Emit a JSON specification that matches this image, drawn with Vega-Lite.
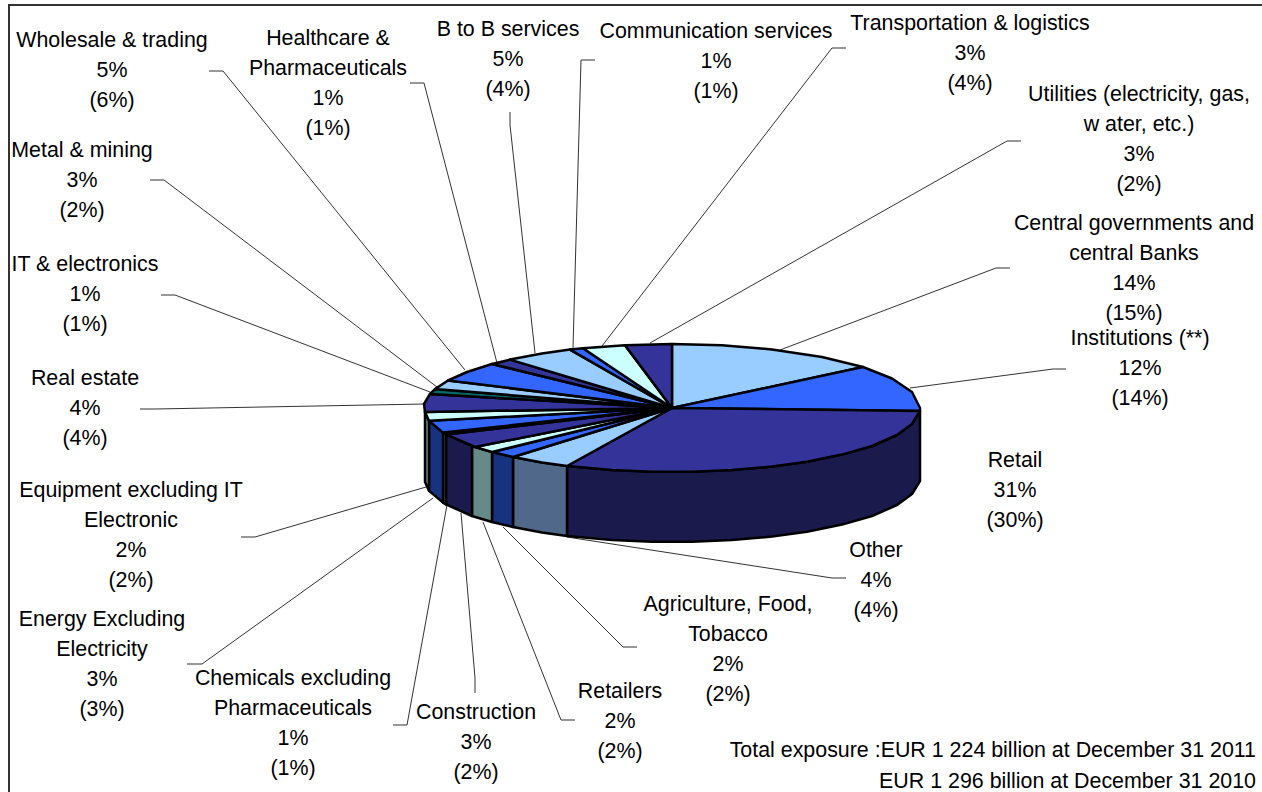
{"$schema":"https://vega.github.io/schema/vega-lite/v6.json","width":1262,"height":792,"padding":0,"autosize":{"type":"none"},"background":"white","config":{"view":{"stroke":null}},
"datasets":{
"frame":[{"x":-663,"y":-384,"i":0},{"x":-663,"y":403,"i":1},{"x":590,"y":403,"i":2}],
"leaders":[
{"leader":"Wholesale","i":0,"x":-463,"y":337},{"leader":"Wholesale","i":1,"x":-449,"y":337},{"leader":"Wholesale","i":2,"x":-207,"y":38},
{"leader":"Healthcare","i":0,"x":-262,"y":325},{"leader":"Healthcare","i":1,"x":-248,"y":325},{"leader":"Healthcare","i":2,"x":-175,"y":45},
{"leader":"BtoB","i":0,"x":-162,"y":296},{"leader":"BtoB","i":1,"x":-162,"y":283},{"leader":"BtoB","i":2,"x":-137,"y":55},
{"leader":"Communication","i":0,"x":-77,"y":348},{"leader":"Communication","i":1,"x":-91,"y":348},{"leader":"Communication","i":2,"x":-99,"y":60},
{"leader":"Transport","i":0,"x":174,"y":360},{"leader":"Transport","i":1,"x":160,"y":360},{"leader":"Transport","i":2,"x":-70,"y":62},
{"leader":"Utilities","i":0,"x":349,"y":267},{"leader":"Utilities","i":1,"x":335,"y":267},{"leader":"Utilities","i":2,"x":-22,"y":65},
{"leader":"Central","i":0,"x":338,"y":140},{"leader":"Central","i":1,"x":324,"y":140},{"leader":"Central","i":2,"x":108,"y":58},
{"leader":"Institutions","i":0,"x":394,"y":39},{"leader":"Institutions","i":1,"x":381,"y":39},{"leader":"Institutions","i":2,"x":238,"y":20},
{"leader":"Other","i":0,"x":174,"y":-170},{"leader":"Other","i":1,"x":160,"y":-170},{"leader":"Other","i":2,"x":-105,"y":-129},
{"leader":"Agriculture","i":0,"x":-35,"y":-239},{"leader":"Agriculture","i":1,"x":-49,"y":-239},{"leader":"Agriculture","i":2,"x":-169,"y":-119},
{"leader":"Retailers","i":0,"x":-97,"y":-312},{"leader":"Retailers","i":1,"x":-111,"y":-312},{"leader":"Retailers","i":2,"x":-189,"y":-114},
{"leader":"Construction","i":0,"x":-197,"y":-285},{"leader":"Construction","i":1,"x":-197,"y":-270},{"leader":"Construction","i":2,"x":-211,"y":-105},
{"leader":"Chemicals","i":0,"x":-279,"y":-317},{"leader":"Chemicals","i":1,"x":-265,"y":-317},{"leader":"Chemicals","i":2,"x":-225,"y":-97},
{"leader":"Energy","i":0,"x":-485,"y":-256},{"leader":"Energy","i":1,"x":-470,"y":-256},{"leader":"Energy","i":2,"x":-239,"y":-90},
{"leader":"Equipment","i":0,"x":-431,"y":-129},{"leader":"Equipment","i":1,"x":-417,"y":-129},{"leader":"Equipment","i":2,"x":-246,"y":-79},
{"leader":"RealEstate","i":0,"x":-532,"y":-1},{"leader":"RealEstate","i":1,"x":-517,"y":-1},{"leader":"RealEstate","i":2,"x":-247,"y":4},
{"leader":"IT","i":0,"x":-511,"y":113},{"leader":"IT","i":1,"x":-497,"y":113},{"leader":"IT","i":2,"x":-242,"y":16},
{"leader":"Metal","i":0,"x":-522,"y":228},{"leader":"Metal","i":1,"x":-508,"y":228},{"leader":"Metal","i":2,"x":-235,"y":21}
],
"walls":[
{"slice":"Retail","i":0,"x":248,"y":-3},{"slice":"Retail","i":1,"x":240,"y":-16},{"slice":"Retail","i":2,"x":225,"y":-27},{"slice":"Retail","i":3,"x":200,"y":-38},{"slice":"Retail","i":4,"x":170,"y":-46.6},{"slice":"Retail","i":5,"x":135,"y":-53.7},{"slice":"Retail","i":6,"x":100,"y":-58.6},{"slice":"Retail","i":7,"x":60,"y":-62.1},{"slice":"Retail","i":8,"x":20,"y":-63.8},{"slice":"Retail","i":9,"x":-20,"y":-63.8},{"slice":"Retail","i":10,"x":-60,"y":-62.1},{"slice":"Retail","i":11,"x":-105,"y":-58},{"slice":"Retail","i":12,"x":-105,"y":-128},{"slice":"Retail","i":13,"x":-60,"y":-132.1},{"slice":"Retail","i":14,"x":-20,"y":-133.8},{"slice":"Retail","i":15,"x":20,"y":-133.8},{"slice":"Retail","i":16,"x":60,"y":-132.1},{"slice":"Retail","i":17,"x":100,"y":-128.6},{"slice":"Retail","i":18,"x":135,"y":-123.7},{"slice":"Retail","i":19,"x":170,"y":-116.6},{"slice":"Retail","i":20,"x":200,"y":-108},{"slice":"Retail","i":21,"x":225,"y":-97},{"slice":"Retail","i":22,"x":240,"y":-86},{"slice":"Retail","i":23,"x":248,"y":-73},{"slice":"Retail","i":24,"x":248,"y":-3},
{"slice":"Other","i":0,"x":-105,"y":-58},{"slice":"Other","i":1,"x":-130,"y":-54.5},{"slice":"Other","i":2,"x":-159,"y":-49},{"slice":"Other","i":3,"x":-159,"y":-119},{"slice":"Other","i":4,"x":-130,"y":-124.5},{"slice":"Other","i":5,"x":-105,"y":-128},{"slice":"Other","i":6,"x":-105,"y":-58},
{"slice":"Agriculture","i":0,"x":-159,"y":-49},{"slice":"Agriculture","i":1,"x":-180,"y":-44},{"slice":"Agriculture","i":2,"x":-180,"y":-114},{"slice":"Agriculture","i":3,"x":-159,"y":-119},{"slice":"Agriculture","i":4,"x":-159,"y":-49},
{"slice":"Retailers","i":0,"x":-180,"y":-44},{"slice":"Retailers","i":1,"x":-200,"y":-38},{"slice":"Retailers","i":2,"x":-200,"y":-108},{"slice":"Retailers","i":3,"x":-180,"y":-114},{"slice":"Retailers","i":4,"x":-180,"y":-44},
{"slice":"Construction","i":0,"x":-200,"y":-38},{"slice":"Construction","i":1,"x":-226,"y":-26.4},{"slice":"Construction","i":2,"x":-226,"y":-96.4},{"slice":"Construction","i":3,"x":-200,"y":-108},{"slice":"Construction","i":4,"x":-200,"y":-38},
{"slice":"Chemicals","i":0,"x":-226,"y":-26.4},{"slice":"Chemicals","i":1,"x":-229,"y":-24.6},{"slice":"Chemicals","i":2,"x":-229,"y":-94.6},{"slice":"Chemicals","i":3,"x":-226,"y":-96.4},{"slice":"Chemicals","i":4,"x":-226,"y":-26.4},
{"slice":"Energy","i":0,"x":-229,"y":-24.6},{"slice":"Energy","i":1,"x":-243,"y":-12.8},{"slice":"Energy","i":2,"x":-243,"y":-82.8},{"slice":"Energy","i":3,"x":-229,"y":-94.6},{"slice":"Energy","i":4,"x":-229,"y":-24.6},
{"slice":"Equipment","i":0,"x":-243,"y":-12.8},{"slice":"Equipment","i":1,"x":-247,"y":-4},{"slice":"Equipment","i":2,"x":-247,"y":-74},{"slice":"Equipment","i":3,"x":-243,"y":-82.8},{"slice":"Equipment","i":4,"x":-243,"y":-12.8}
],
"tops":[
{"slice":"Central","i":0,"x":0,"y":0},{"slice":"Central","i":1,"x":0,"y":64},{"slice":"Central","i":2,"x":50,"y":62.7},{"slice":"Central","i":3,"x":100,"y":58.6},{"slice":"Central","i":4,"x":150,"y":51},{"slice":"Central","i":5,"x":191,"y":41},{"slice":"Central","i":6,"x":0,"y":0},
{"slice":"Institutions","i":0,"x":0,"y":0},{"slice":"Institutions","i":1,"x":191,"y":41},{"slice":"Institutions","i":2,"x":220,"y":29.5},{"slice":"Institutions","i":3,"x":240,"y":16},{"slice":"Institutions","i":4,"x":248,"y":0},{"slice":"Institutions","i":5,"x":248,"y":-3},{"slice":"Institutions","i":6,"x":0,"y":0},
{"slice":"Retail","i":0,"x":0,"y":0},{"slice":"Retail","i":1,"x":248,"y":-3},{"slice":"Retail","i":2,"x":240,"y":-16},{"slice":"Retail","i":3,"x":225,"y":-27},{"slice":"Retail","i":4,"x":200,"y":-38},{"slice":"Retail","i":5,"x":170,"y":-46.6},{"slice":"Retail","i":6,"x":135,"y":-53.7},{"slice":"Retail","i":7,"x":100,"y":-58.6},{"slice":"Retail","i":8,"x":60,"y":-62.1},{"slice":"Retail","i":9,"x":20,"y":-63.8},{"slice":"Retail","i":10,"x":-20,"y":-63.8},{"slice":"Retail","i":11,"x":-60,"y":-62.1},{"slice":"Retail","i":12,"x":-105,"y":-58},{"slice":"Retail","i":13,"x":0,"y":0},
{"slice":"Other","i":0,"x":0,"y":0},{"slice":"Other","i":1,"x":-105,"y":-58},{"slice":"Other","i":2,"x":-130,"y":-54.5},{"slice":"Other","i":3,"x":-159,"y":-49},{"slice":"Other","i":4,"x":0,"y":0},
{"slice":"Agriculture","i":0,"x":0,"y":0},{"slice":"Agriculture","i":1,"x":-159,"y":-49},{"slice":"Agriculture","i":2,"x":-180,"y":-44},{"slice":"Agriculture","i":3,"x":0,"y":0},
{"slice":"Retailers","i":0,"x":0,"y":0},{"slice":"Retailers","i":1,"x":-180,"y":-44},{"slice":"Retailers","i":2,"x":-197,"y":-39},{"slice":"Retailers","i":3,"x":0,"y":0},
{"slice":"Construction","i":0,"x":0,"y":0},{"slice":"Construction","i":1,"x":-197,"y":-39},{"slice":"Construction","i":2,"x":-226,"y":-26.4},{"slice":"Construction","i":3,"x":0,"y":0},
{"slice":"Chemicals","i":0,"x":0,"y":0},{"slice":"Chemicals","i":1,"x":-226,"y":-26.4},{"slice":"Chemicals","i":2,"x":-229,"y":-24.6},{"slice":"Chemicals","i":3,"x":0,"y":0},
{"slice":"Energy","i":0,"x":0,"y":0},{"slice":"Energy","i":1,"x":-229,"y":-24.6},{"slice":"Energy","i":2,"x":-243,"y":-12.8},{"slice":"Energy","i":3,"x":0,"y":0},
{"slice":"Equipment","i":0,"x":0,"y":0},{"slice":"Equipment","i":1,"x":-243,"y":-12.8},{"slice":"Equipment","i":2,"x":-247,"y":-4},{"slice":"Equipment","i":3,"x":0,"y":0},
{"slice":"RealEstate","i":0,"x":0,"y":0},{"slice":"RealEstate","i":1,"x":-247,"y":-4},{"slice":"RealEstate","i":2,"x":-248,"y":4},{"slice":"RealEstate","i":3,"x":-242,"y":14},{"slice":"RealEstate","i":4,"x":0,"y":0},
{"slice":"IT","i":0,"x":0,"y":0},{"slice":"IT","i":1,"x":-242,"y":14},{"slice":"IT","i":2,"x":-237,"y":18.9},{"slice":"IT","i":3,"x":0,"y":0},
{"slice":"Metal","i":0,"x":0,"y":0},{"slice":"Metal","i":1,"x":-237,"y":18.9},{"slice":"Metal","i":2,"x":-224,"y":27.5},{"slice":"Metal","i":3,"x":0,"y":0},
{"slice":"Wholesale","i":0,"x":0,"y":0},{"slice":"Wholesale","i":1,"x":-224,"y":27.5},{"slice":"Wholesale","i":2,"x":-205,"y":36},{"slice":"Wholesale","i":3,"x":-180,"y":44},{"slice":"Wholesale","i":4,"x":0,"y":0},
{"slice":"Healthcare","i":0,"x":0,"y":0},{"slice":"Healthcare","i":1,"x":-180,"y":44},{"slice":"Healthcare","i":2,"x":-162,"y":48.4},{"slice":"Healthcare","i":3,"x":0,"y":0},
{"slice":"BtoB","i":0,"x":0,"y":0},{"slice":"BtoB","i":1,"x":-162,"y":48.4},{"slice":"BtoB","i":2,"x":-130,"y":54.5},{"slice":"BtoB","i":3,"x":-102,"y":58.4},{"slice":"BtoB","i":4,"x":0,"y":0},
{"slice":"Communication","i":0,"x":0,"y":0},{"slice":"Communication","i":1,"x":-102,"y":58.4},{"slice":"Communication","i":2,"x":-89,"y":59.7},{"slice":"Communication","i":3,"x":0,"y":0},
{"slice":"Transport","i":0,"x":0,"y":0},{"slice":"Transport","i":1,"x":-89,"y":59.7},{"slice":"Transport","i":2,"x":-47,"y":62.8},{"slice":"Transport","i":3,"x":0,"y":0},
{"slice":"Utilities","i":0,"x":0,"y":0},{"slice":"Utilities","i":1,"x":-47,"y":62.8},{"slice":"Utilities","i":2,"x":0,"y":64},{"slice":"Utilities","i":3,"x":0,"y":0}
],
"labels":[
{"label":"Wholesale & trading\n5%\n(6%)","x":-560,"y":367},
{"label":"Healthcare &\nPharmaceuticals\n1%\n(1%)","x":-344,"y":369},
{"label":"B to B services\n5%\n(4%)","x":-164,"y":378},
{"label":"Communication services\n1%\n(1%)","x":44,"y":376},
{"label":"Transportation & logistics\n3%\n(4%)","x":298,"y":384},
{"label":"Utilities (electricity, gas,\nw ater, etc.)\n3%\n(2%)","x":467,"y":313},
{"label":"Central governments and\ncentral Banks\n14%\n(15%)","x":462,"y":184},
{"label":"Institutions (**)\n12%\n(14%)","x":468,"y":69},
{"label":"Retail\n31%\n(30%)","x":343,"y":-53},
{"label":"Other\n4%\n(4%)","x":204,"y":-143},
{"label":"Agriculture, Food,\nTobacco\n2%\n(2%)","x":56,"y":-197},
{"label":"Retailers\n2%\n(2%)","x":-52,"y":-284},
{"label":"Construction\n3%\n(2%)","x":-196,"y":-305},
{"label":"Chemicals excluding\nPharmaceuticals\n1%\n(1%)","x":-379,"y":-271},
{"label":"Energy Excluding\nElectricity\n3%\n(3%)","x":-570,"y":-212},
{"label":"Equipment excluding IT\nElectronic\n2%\n(2%)","x":-541,"y":-83},
{"label":"Real estate\n4%\n(4%)","x":-587,"y":29},
{"label":"IT & electronics\n1%\n(1%)","x":-587,"y":143},
{"label":"Metal & mining\n3%\n(2%)","x":-590,"y":257}
],
"notes":[
{"label":"Total exposure :EUR 1 224 billion at December 31 2011","x":584,"y":-343},
{"label":"EUR 1 296 billion at December 31 2010","x":584,"y":-374}
]},
"encoding":{
"x":{"field":"x","type":"quantitative","axis":null,"scale":{"domain":[-672,590],"nice":false,"zero":false}},
"y":{"field":"y","type":"quantitative","axis":null,"scale":{"domain":[-384,408],"nice":false,"zero":false}}
},
"layer":[
{"data":{"name":"frame"},"mark":{"type":"line","stroke":"#333333","strokeWidth":2},"encoding":{"order":{"field":"i","type":"quantitative"}}},
{"data":{"name":"leaders"},"mark":{"type":"line","stroke":"#333333","strokeWidth":1},"encoding":{"detail":{"field":"leader","type":"nominal"},"order":{"field":"i","type":"quantitative"}}},
{"data":{"name":"walls"},"mark":{"type":"line","stroke":"black","strokeWidth":2.5,"strokeJoin":"round"},"encoding":{"order":{"field":"i","type":"quantitative"},"fill":{"field":"slice","type":"nominal","legend":null,"scale":{"domain":["Retail","Other","Agriculture","Retailers","Construction","Chemicals","Energy","Equipment"],"range":["#1A1A4D","#50688A","#173380","#668A88","#1A1A4D","#50688A","#173380","#668A88"]}}}},
{"data":{"name":"tops"},"mark":{"type":"line","stroke":"black","strokeWidth":2.5,"strokeJoin":"round"},"encoding":{"order":{"field":"i","type":"quantitative"},"fill":{"field":"slice","type":"nominal","legend":null,"scale":{"domain":["Central","Institutions","Retail","Other","Agriculture","Retailers","Construction","Chemicals","Energy","Equipment","RealEstate","IT","Metal","Wholesale","Healthcare","BtoB","Communication","Transport","Utilities"],"range":["#99CCFF","#3366FF","#333399","#99CCFF","#3366FF","#CCFFFF","#333399","#99CCFF","#3366FF","#CCFFFF","#333399","#006666","#99CCFF","#3366FF","#333399","#99CCFF","#3366FF","#CCFFFF","#333399"]}}}},
{"data":{"name":"labels"},"mark":{"type":"text","font":"Liberation Sans","fontSize":21.4,"lineHeight":30,"lineBreak":"\n","align":"center","baseline":"middle","color":"#000000"},"encoding":{"text":{"field":"label","type":"nominal"}}},
{"data":{"name":"notes"},"mark":{"type":"text","font":"Liberation Sans","fontSize":21.4,"align":"right","baseline":"middle","color":"#000000"},"encoding":{"text":{"field":"label","type":"nominal"}}}
],
"resolve":{"scale":{"fill":"independent"}}
}
